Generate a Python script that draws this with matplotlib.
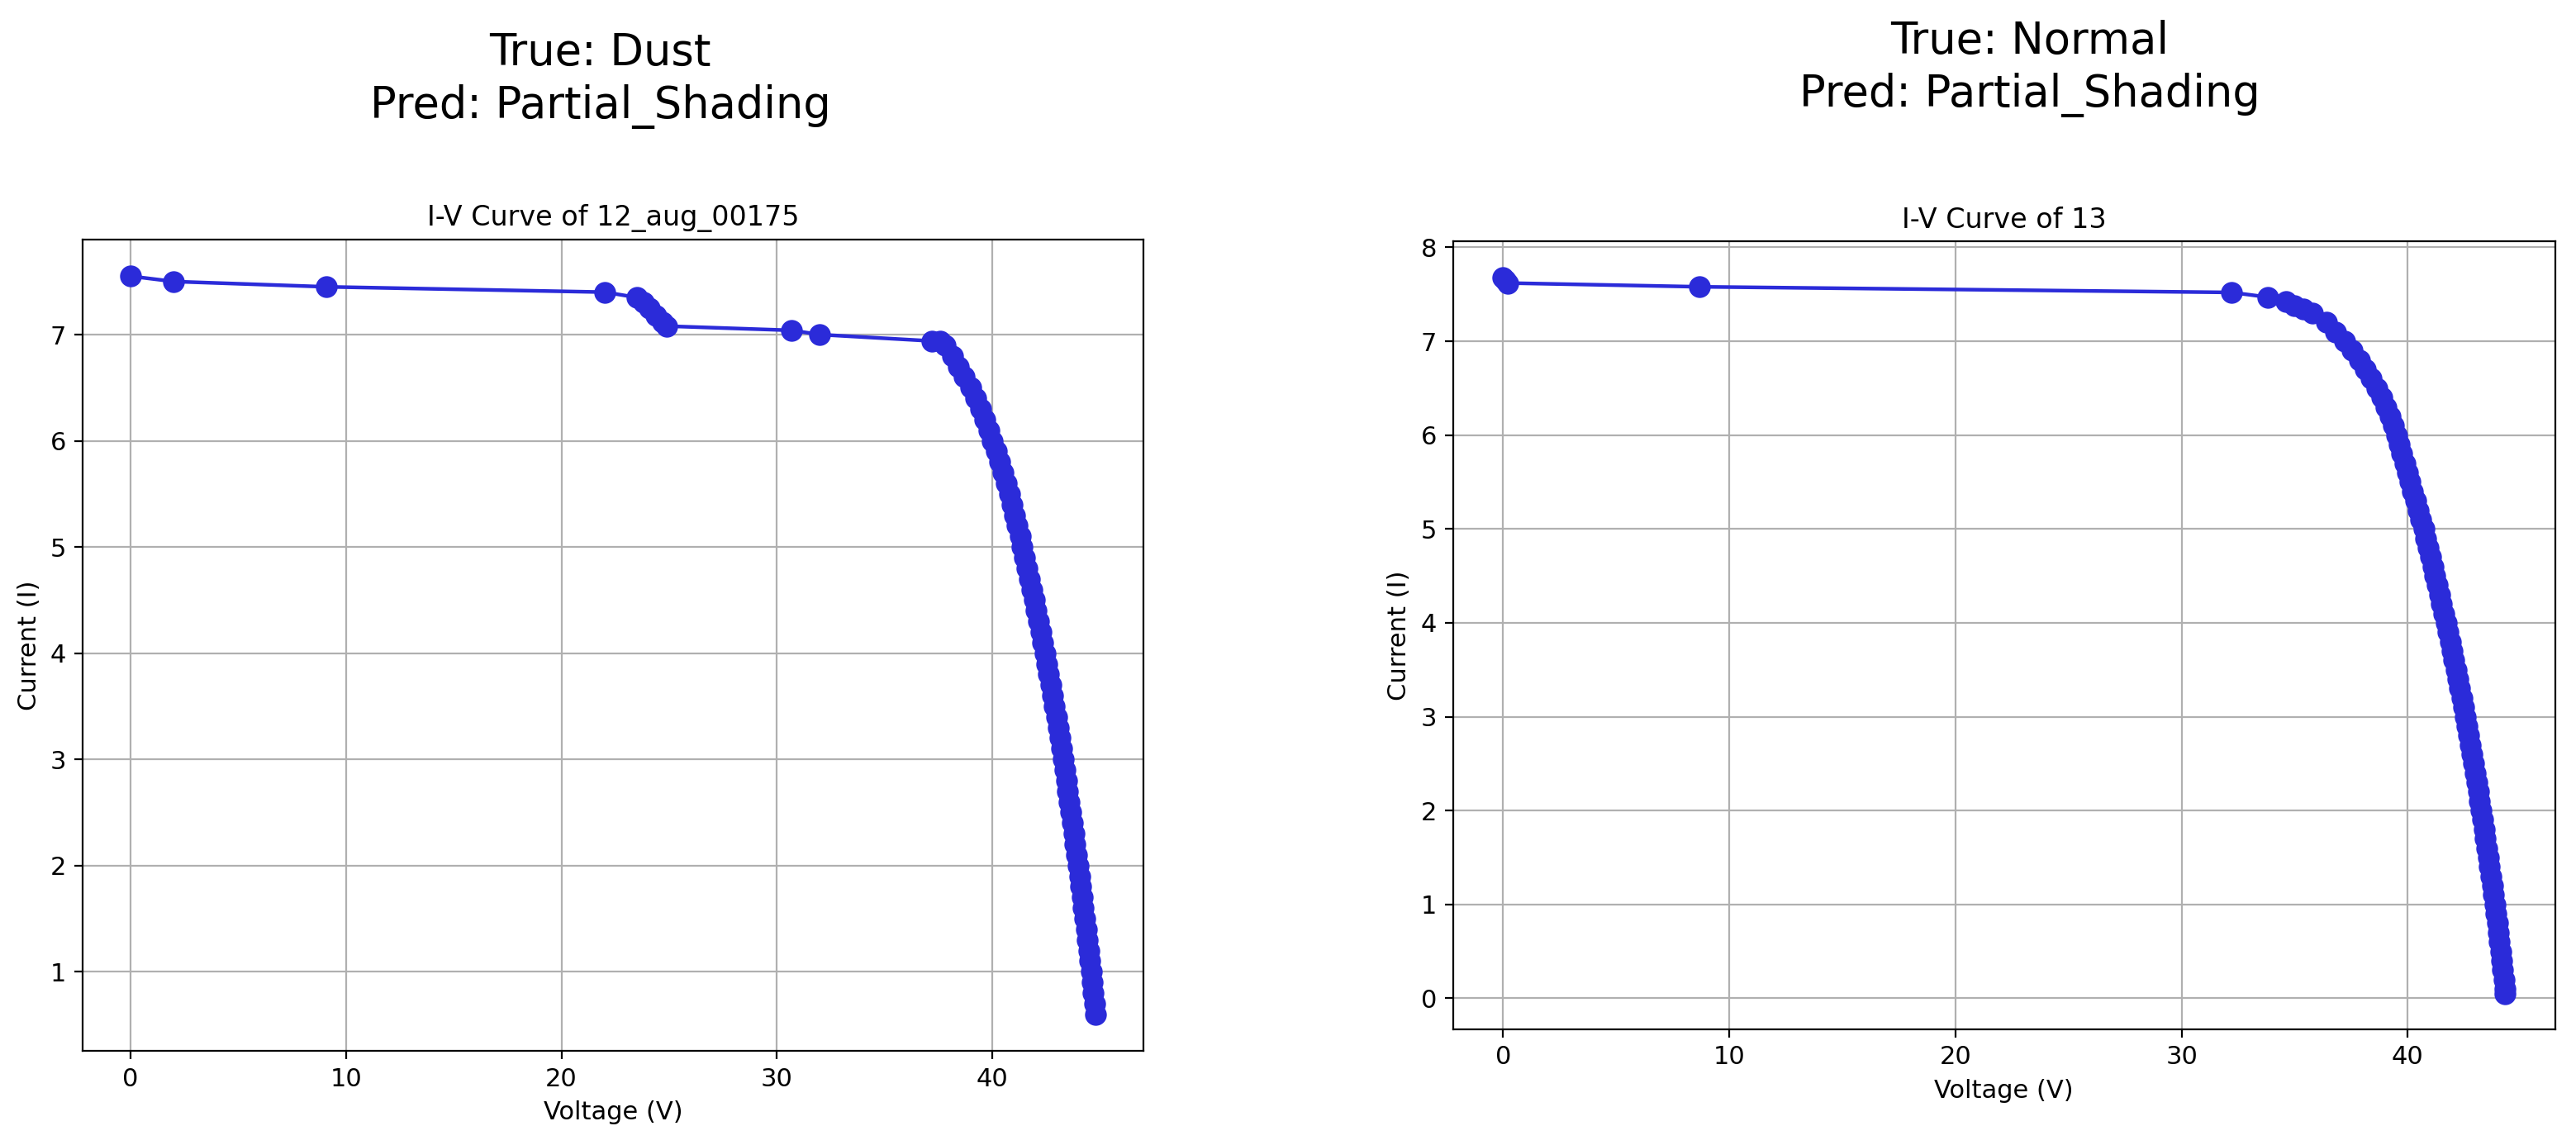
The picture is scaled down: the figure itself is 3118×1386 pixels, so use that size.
import matplotlib
matplotlib.use("Agg")
import matplotlib.pyplot as plt

# Left panel: 12_aug_00175 (True: Dust)
v_dust = [0, 2.0, 9.1, 22.0, 23.5, 23.8, 24.1, 24.4, 24.7, 24.9, 30.7, 32.0, 37.2, 37.6,
          37.8, 38.15, 38.45, 38.7, 39.0, 39.25, 39.45, 39.65, 39.85, 40.0,
          40.2, 40.35, 40.5, 40.65, 40.8, 40.92, 41.05, 41.17, 41.3, 41.4,
          41.52, 41.63, 41.74, 41.85, 41.95, 42.05, 42.15, 42.25, 42.35, 42.45,
          42.54, 42.63, 42.72, 42.81, 42.9, 42.98, 43.06, 43.14, 43.22, 43.3,
          43.37, 43.44, 43.51, 43.58, 43.65, 43.72, 43.79, 43.86, 43.93, 44.0,
          44.06, 44.12, 44.18, 44.24, 44.3, 44.36, 44.42, 44.48, 44.54, 44.6,
          44.65, 44.7, 44.75, 44.8]
i_dust = [7.55, 7.5, 7.45, 7.4, 7.35, 7.3, 7.25, 7.18, 7.12, 7.08, 7.04, 7.0, 6.94, 6.94,
          6.9, 6.8, 6.7, 6.6, 6.5, 6.4, 6.3, 6.2, 6.1, 6.0,
          5.9, 5.8, 5.7, 5.6, 5.5, 5.4, 5.3, 5.2, 5.1, 5.0,
          4.9, 4.8, 4.7, 4.6, 4.5, 4.4, 4.3, 4.2, 4.1, 4.0,
          3.9, 3.8, 3.7, 3.6, 3.5, 3.4, 3.3, 3.2, 3.1, 3.0,
          2.9, 2.8, 2.7, 2.6, 2.5, 2.4, 2.3, 2.2, 2.1, 2.0,
          1.9, 1.8, 1.7, 1.6, 1.5, 1.4, 1.3, 1.2, 1.1, 1.0,
          0.9, 0.8, 0.7, 0.6]

# Right panel: 13 (True: Normal)
v_norm = [0, 0.1, 0.2, 8.7, 32.2, 33.8, 34.6, 35.0, 35.4,
          35.8, 36.4, 36.8, 37.2, 37.55, 37.85, 38.13, 38.39, 38.63, 38.85, 39.04, 39.21, 39.36,
          39.5, 39.62, 39.74, 39.86, 39.98, 40.1, 40.22, 40.34, 40.46, 40.58, 40.7,
          40.8, 40.9, 41.0, 41.1, 41.2, 41.3, 41.4, 41.5, 41.6, 41.7,
          41.79, 41.87, 41.96, 42.04, 42.13, 42.21, 42.3, 42.38, 42.47, 42.55,
          42.62, 42.69, 42.76, 42.83, 42.9, 42.97, 43.04, 43.11, 43.18, 43.25,
          43.31, 43.37, 43.43, 43.49, 43.55, 43.61, 43.67, 43.73, 43.79, 43.85,
          43.9, 43.95, 44.0, 44.05, 44.1, 44.15, 44.2, 44.25, 44.29, 44.31]
i_norm = [7.68, 7.65, 7.62, 7.58, 7.52, 7.47, 7.42, 7.38, 7.34,
          7.3, 7.2, 7.1, 7.0, 6.9, 6.8, 6.7, 6.6, 6.5, 6.4, 6.3, 6.2, 6.1,
          6.0, 5.9, 5.8, 5.7, 5.6, 5.5, 5.4, 5.3, 5.2, 5.1, 5.0,
          4.9, 4.8, 4.7, 4.6, 4.5, 4.4, 4.3, 4.2, 4.1, 4.0,
          3.9, 3.8, 3.7, 3.6, 3.5, 3.4, 3.3, 3.2, 3.1, 3.0,
          2.9, 2.8, 2.7, 2.6, 2.5, 2.4, 2.3, 2.2, 2.1, 2.0,
          1.9, 1.8, 1.7, 1.6, 1.5, 1.4, 1.3, 1.2, 1.1, 1.0,
          0.9, 0.8, 0.7, 0.6, 0.5, 0.4, 0.3, 0.2, 0.1, 0.05]

fig = plt.figure(figsize=(15.59, 6.93), dpi=200)
ax1 = fig.add_axes([0.032, 0.082, 0.412, 0.709])
ax2 = fig.add_axes([0.564, 0.101, 0.428, 0.688])

panels = [
    (ax1, v_dust, i_dust, "I-V Curve of 12_aug_00175"),
    (ax2, v_norm, i_norm, "I-V Curve of 13"),
]
for ax, v, i, title in panels:
    ax.plot(v, i, color="#2b2bd9", marker="o", markersize=8.5, linewidth=1.6)
    ax.set_title(title, fontsize=12)
    ax.set_xlabel("Voltage (V)", fontsize=11)
    ax.set_ylabel("Current (I)", fontsize=11)
    ax.tick_params(labelsize=11)
    ax.grid(True, color="#b0b0b0", linewidth=0.8)
    ax.set_xticks([0, 10, 20, 30, 40])

fig.text(0.233, 0.93, "True: Dust\nPred: Partial_Shading", ha="center", va="center",
         fontsize=19, linespacing=1.3)
fig.text(0.788, 0.94, "True: Normal\nPred: Partial_Shading", ha="center", va="center",
         fontsize=19, linespacing=1.3)

fig.savefig("out.png")
